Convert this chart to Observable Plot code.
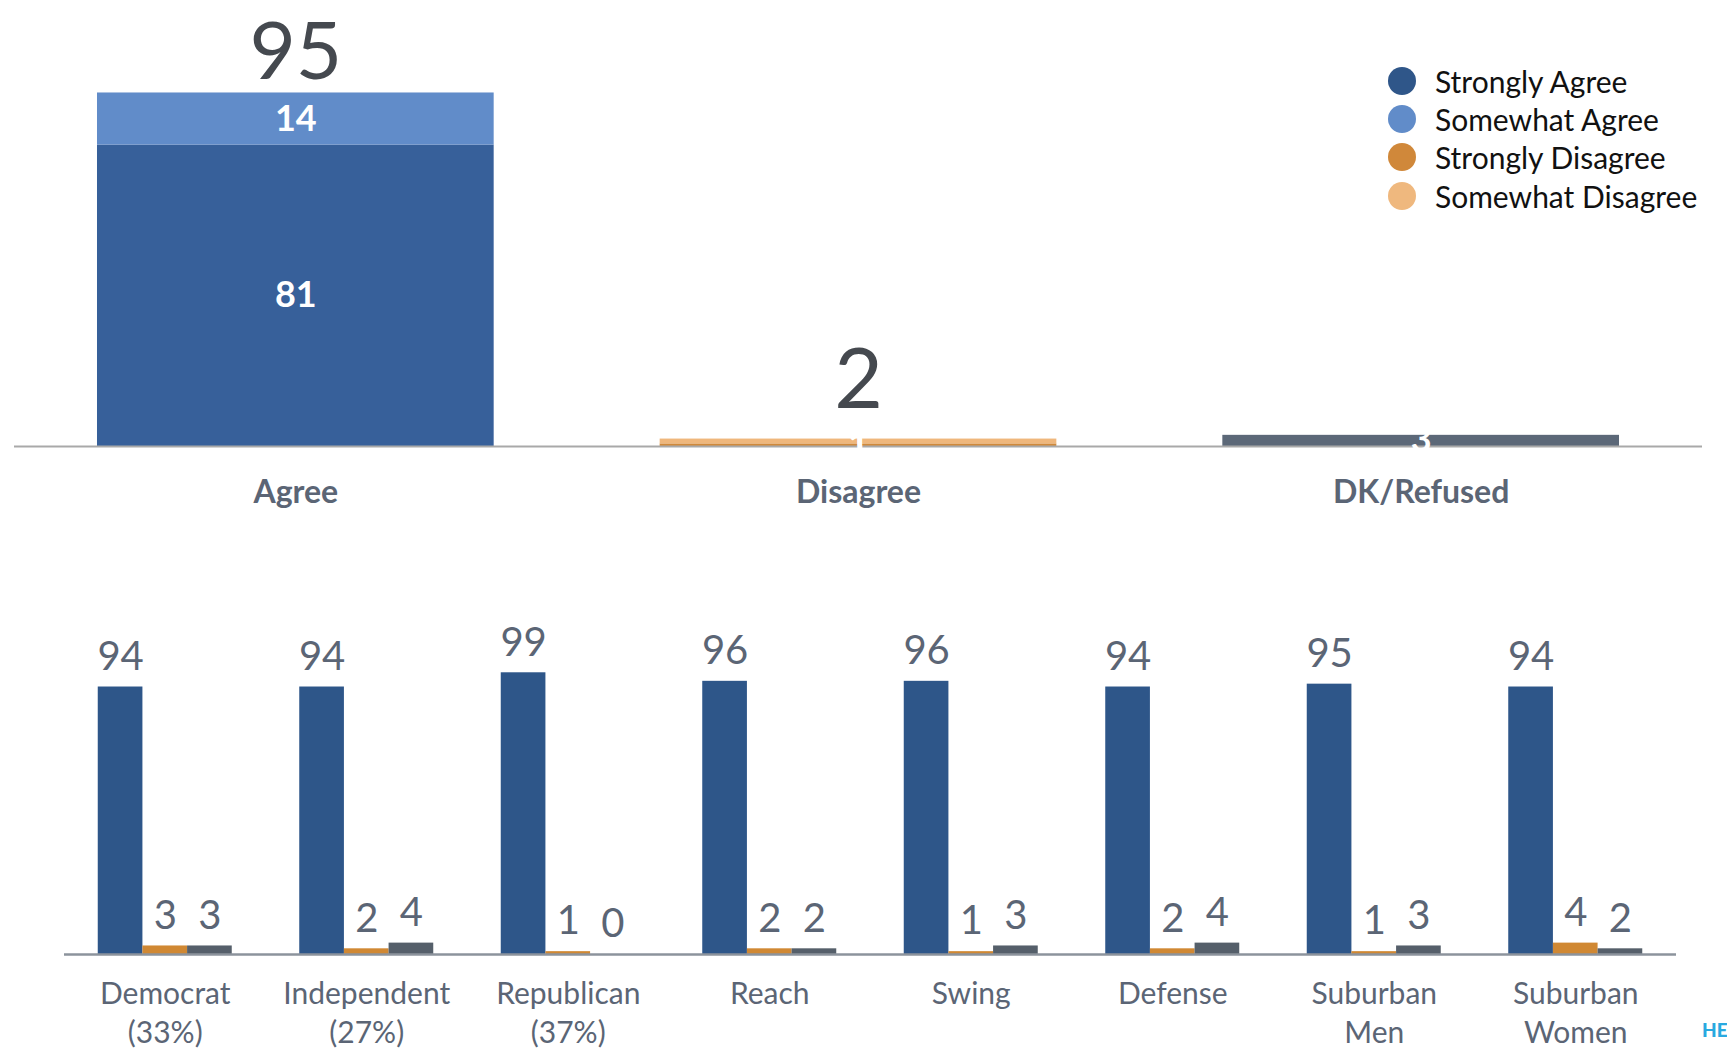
<!DOCTYPE html>
<html>
<head>
<meta charset="utf-8">
<script src="https://cdn.jsdelivr.net/npm/d3@7"></script>
<script src="https://cdn.jsdelivr.net/npm/@observablehq/plot@0.6"></script>
<style>
  html, body { margin: 0; padding: 0; background: #fff; overflow: hidden; }
  body { width: 1727px; height: 1052px; position: relative; font-family: Lato, "Open Sans", sans-serif; }
  #top, #bottom { display: block; }
  svg { overflow: visible; }
  #legend { position: absolute; left: 1388px; top: 62px; }
  #legend .row { display: flex; align-items: center; height: 38.2px; }
  #legend .dot { width: 28px; height: 28px; border-radius: 50%; margin-right: 19px; }
  #legend .lab { font-size: 30px; color: #111; white-space: nowrap; }
  #logo { position: absolute; left: 1702px; top: 1018px; font-size: 19px; font-weight: 900; color: #29a9e0; }
</style>
</head>
<body>
<div id="top"></div>
<div id="bottom"></div>
<div id="legend"></div>
<div id="logo">HE</div>
<script>
// ---------- Top chart data ----------
const topCategories = ["Agree", "Disagree", "DK/Refused"];
const topSeries = ["Strongly Agree", "Somewhat Agree", "Strongly Disagree", "Somewhat Disagree", "DK/Refused"];
const topSeriesCategory = ["Agree", "Agree", "Disagree", "Disagree", "DK/Refused"];
const topValues = [81, 14, 0.7, 1.3, 3];
const topTotals = [95, 2];
const topTotalCategories = ["Agree", "Disagree"];
const topColors = ["#37609a", "#618cc9", "#d0893a", "#efb77c", "#5c6878"];

// ---------- Legend ----------
const legendLabels = ["Strongly Agree", "Somewhat Agree", "Strongly Disagree", "Somewhat Disagree"];
const legendColors = ["#2f5689", "#618cc9", "#d0883a", "#efb87e"];

// ---------- Bottom chart data ----------
const groups = ["Democrat\n(33%)", "Independent\n(27%)", "Republican\n(37%)", "Reach", "Swing", "Defense", "Suburban\nMen", "Suburban\nWomen"];
const bottomSeries = ["Agree", "Disagree", "DK/Refused"];
const agreeValues = [94, 94, 99, 96, 96, 94, 95, 94];
const disagreeValues = [3, 2, 1, 2, 1, 2, 1, 4];
const dkValues = [3, 4, 0, 2, 3, 4, 3, 2];
const bottomColors = ["#2e5689", "#d08833", "#555f6a"];

const labelColor = "#5b6575";

// ---------- Top chart ----------
const topData = topSeries.map((s, i) => ({series: s, category: topSeriesCategory[i], value: topValues[i]}));
const totalsData = topTotals.map((v, i) => ({category: topTotalCategories[i], value: v}));

const topPad = 0.295;
const topPlot = Plot.plot({
  width: 1727, height: 530,
  marginLeft: 14, marginRight: 25, marginTop: 0, marginBottom: 84,
  style: {fontFamily: "Lato, 'Open Sans', sans-serif", background: "transparent", overflow: "visible"},
  x: {domain: topCategories, paddingInner: topPad, paddingOuter: topPad / 2, round: false, axis: null},
  y: {domain: [0, 119.85], axis: null},
  color: {domain: topSeries, range: topColors},
  marks: [
    Plot.barY(topData, {x: "category", y: "value", fill: "series"}),
    Plot.ruleY([0], {stroke: "#a9a9a9", strokeWidth: 2}),
    Plot.text(topData, Plot.stackY({
      x: "category", y: "value", z: "series",
      text: d => String(Math.round(d.value)),
      fill: "white", fontWeight: 700, fontSize: 36, lineAnchor: "middle"
    })),
    Plot.text(totalsData.filter(d => d.category === "Agree"), {
      x: "category", y: "value", text: d => String(d.value),
      fill: "#45494f", fontSize: 80, lineAnchor: "bottom", dy: -14
    }),
    Plot.text(totalsData.filter(d => d.category === "Disagree"), {
      x: "category", y: "value", text: d => String(d.value),
      fill: "#45494f", fontSize: 84, lineAnchor: "bottom", dy: -31
    }),
    Plot.text(topCategories, {
      x: d => d, y: 0, text: d => d, dy: 46, lineAnchor: "middle",
      fill: labelColor, fontWeight: 700, fontSize: 32
    })
  ]
});
document.getElementById("top").appendChild(topPlot);

// ---------- Legend ----------
const legend = document.getElementById("legend");
legendLabels.forEach((l, i) => {
  const row = document.createElement("div");
  row.className = "row";
  row.innerHTML = `<div class="dot" style="background:${legendColors[i]}"></div><div class="lab">${l}</div>`;
  legend.appendChild(row);
});

// ---------- Bottom chart ----------
const bottomValues = [agreeValues, disagreeValues, dkValues];
const bottomData = [];
groups.forEach((g, gi) => {
  bottomSeries.forEach((s, si) => {
    bottomData.push({group: g, series: s, si, value: bottomValues[si][gi]});
  });
});

const bW = 1727, bML = 64, bMR = 51, pad = 0.335;
const bandwidth = (bW - bML - bMR) / groups.length * (1 - pad);
const third = bandwidth / 3;

const barMarks = bottomSeries.map((s, si) =>
  Plot.barY(bottomData.filter(d => d.si === si), {
    x: "group", y: "value", fill: "series",
    insetLeft: si * third, insetRight: (2 - si) * third
  })
);
const labelMarks = bottomSeries.map((s, si) =>
  Plot.text(bottomData.filter(d => d.si === si), {
    x: "group", y: "value", text: d => String(d.value),
    dx: (si - 1) * third, dy: -30, lineAnchor: "middle",
    fill: labelColor, fontSize: 40
  })
);

const bottomPlot = Plot.plot({
  width: bW, height: 522,
  marginLeft: bML, marginRight: bMR, marginTop: 0, marginBottom: 98,
  style: {fontFamily: "Lato, 'Open Sans', sans-serif", background: "transparent", overflow: "visible"},
  x: {domain: groups, paddingInner: pad, paddingOuter: pad / 2, round: false, axis: null},
  y: {domain: [0, 149], axis: null},
  color: {domain: bottomSeries, range: bottomColors},
  marks: [
    ...barMarks,
    Plot.ruleY([0], {stroke: "#8c939c", strokeWidth: 2.5}),
    ...labelMarks,
    Plot.text(groups, {
      x: d => d, y: 0, text: d => d, dy: 22, lineAnchor: "top", lineHeight: 1.3,
      fill: labelColor, fontSize: 30
    })
  ]
});
document.getElementById("bottom").appendChild(bottomPlot);
</script>
</body>
</html>
